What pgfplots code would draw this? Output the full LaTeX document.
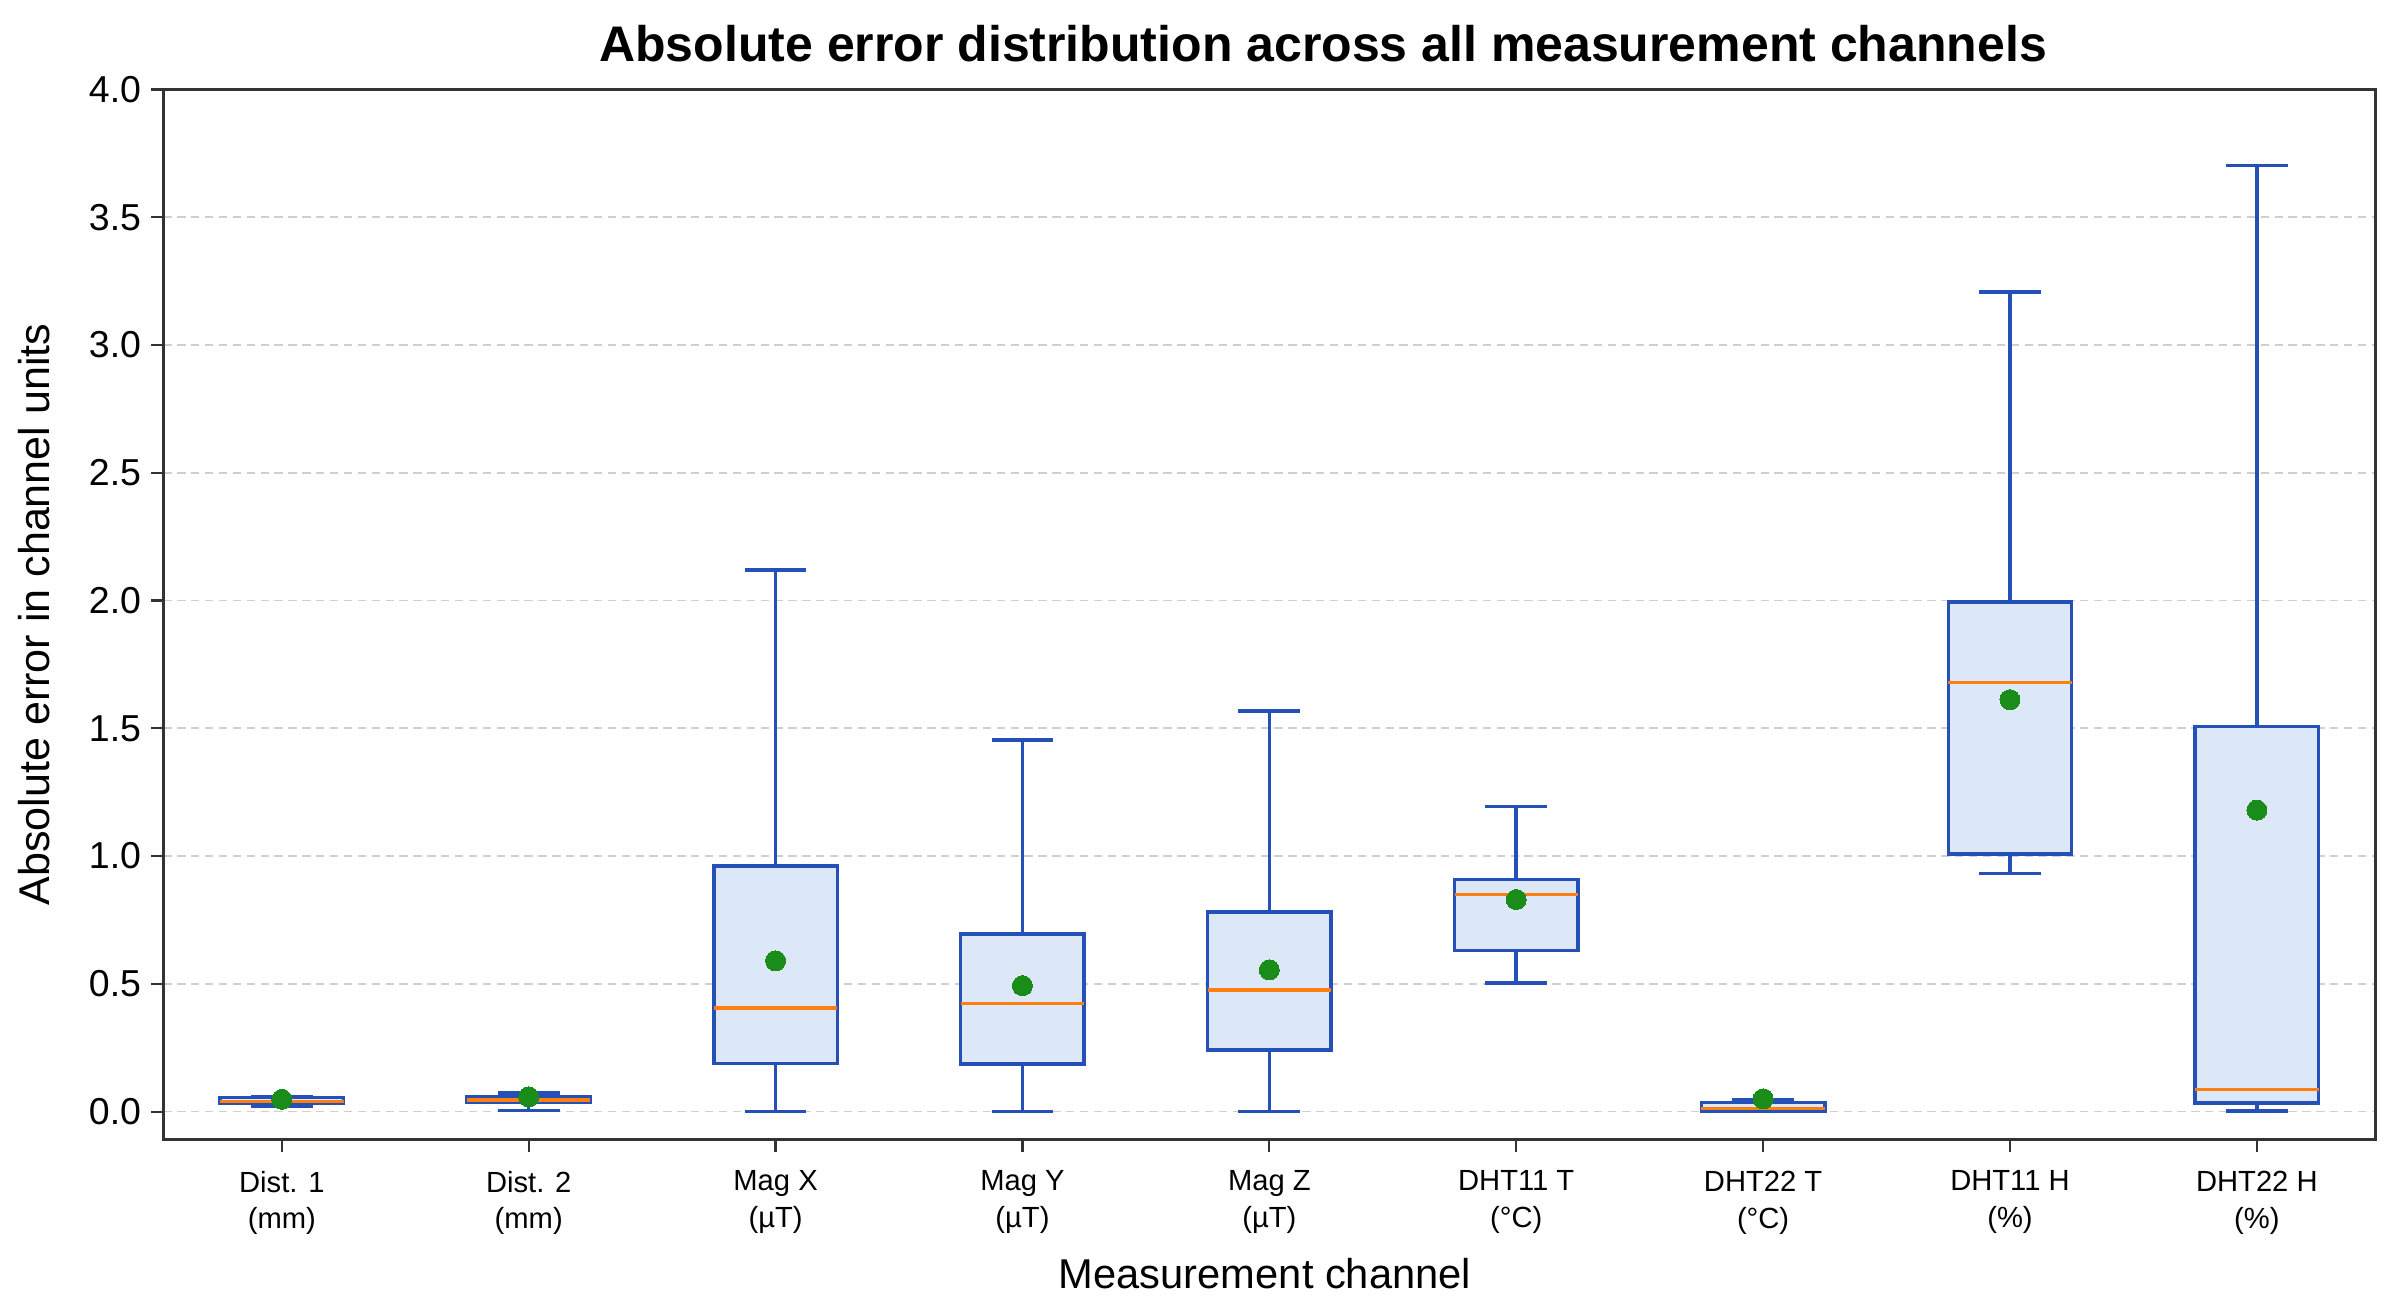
\documentclass[border=0pt]{standalone}
\usepackage{pgfplots}
\pgfplotsset{compat=1.18}
\usepgfplotslibrary{statistics}
\usepackage{fontspec}
\setmainfont{Liberation Sans}
\definecolor{boxedge}{HTML}{2450B8}
\definecolor{boxfill}{HTML}{DCE8F7}
\definecolor{medcol}{HTML}{FF7F0E}
\definecolor{meancol}{HTML}{1A8C1A}
\definecolor{axcol}{HTML}{333333}
\definecolor{gridcol}{HTML}{CFCFCF}
\pgfplotsset{
  boxst/.style={draw=boxedge, line width=1.25bp, solid,
    boxplot/draw direction=y,
    boxplot/box extend=0.5, boxplot/whisker extend=0.25,
    boxplot/every box/.style={fill=boxfill, draw=boxedge},
    boxplot/every median/.style={draw=medcol, line width=1.2bp},
  },
}
\begin{document}
\begin{tikzpicture}
\path[use as bounding box] (-58.8bp,-61.4bp) rectangle (802.3bp,410.2bp);
\begin{axis}[
  at={(0,0)}, anchor=south west,
  scale only axis,
  width=796.3bp, height=378.0bp,
  xmin=0.52, xmax=9.48,
  ymin=-0.109, ymax=4.0,
  xtick={1,2,3,4,5,6,7,8,9},
  xticklabels={{Dist. 1\\(mm)},{Dist. 2\\(mm)},{Mag X\\(µT)},{Mag Y\\(µT)},{Mag Z\\(µT)},{DHT11 T\\(°C)},{DHT22 T\\(°C)},{DHT11 H\\(\%)},{DHT22 H\\(\%)}},
  ytick={0,0.5,1,1.5,2,2.5,3,3.5,4},
  /pgf/number format/assume math mode=true,
  yticklabel style={font=\fontsize{13.5bp}{16bp}\selectfont,
    /pgf/number format/fixed, /pgf/number format/fixed zerofill, /pgf/number format/precision=1},
  xticklabel style={font=\fontsize{10.5bp}{13.3bp}\selectfont, align=center, yshift=-3.3bp},
  tick align=outside,
  tick pos=left,
  major tick length=4.5bp,
  tick style={axcol, line width=0.8bp},
  axis line style={axcol, line width=1bp},
  ymajorgrids,
  major grid style={gridcol, dash pattern=on 3bp off 2bp, line width=0.6bp},
]
\addplot[boxst, boxplot prepared={lower whisker=0.02, lower quartile=0.033, median=0.04, upper quartile=0.055, upper whisker=0.06, draw position=1}] coordinates {};
\addplot[boxst, boxplot prepared={lower whisker=0.005, lower quartile=0.035, median=0.045, upper quartile=0.058, upper whisker=0.073, draw position=2}] coordinates {};
\addplot[boxst, boxplot prepared={lower whisker=0.0, lower quartile=0.189, median=0.406, upper quartile=0.961, upper whisker=2.12, draw position=3}] coordinates {};
\addplot[boxst, boxplot prepared={lower whisker=0.0, lower quartile=0.186, median=0.424, upper quartile=0.695, upper whisker=1.455, draw position=4}] coordinates {};
\addplot[boxst, boxplot prepared={lower whisker=0.0, lower quartile=0.241, median=0.476, upper quartile=0.781, upper whisker=1.567, draw position=5}] coordinates {};
\addplot[boxst, boxplot prepared={lower whisker=0.504, lower quartile=0.631, median=0.849, upper quartile=0.908, upper whisker=1.195, draw position=6}] coordinates {};
\addplot[boxst, boxplot prepared={lower whisker=0.0, lower quartile=0.002, median=0.012, upper quartile=0.035, upper whisker=0.045, draw position=7}] coordinates {};
\addplot[boxst, boxplot prepared={lower whisker=0.931, lower quartile=1.008, median=1.68, upper quartile=1.994, upper whisker=3.208, draw position=8}] coordinates {};
\addplot[boxst, boxplot prepared={lower whisker=0.003, lower quartile=0.034, median=0.086, upper quartile=1.508, upper whisker=3.703, draw position=9}] coordinates {};
\addplot[only marks, mark=*, mark size=3.6bp, mark options={fill=meancol, draw=meancol, line width=0pt}] coordinates {
(1,0.048) (2,0.058) (3,0.59) (4,0.493) (5,0.555) (6,0.83) (7,0.05) (8,1.612) (9,1.18)};
\end{axis}
\node[anchor=base, font=\bfseries\fontsize{18bp}{22bp}\selectfont] at (417.5bp,388bp) {Absolute error distribution across all measurement channels};
\node[anchor=base, font=\fontsize{15bp}{18bp}\selectfont] at (396.6bp,-53.8bp) {Measurement channel};
\node[rotate=90, anchor=base, font=\fontsize{15.5bp}{18bp}\selectfont] at (-40.8bp,189bp) {Absolute error in channel units};
\end{tikzpicture}
\end{document}
